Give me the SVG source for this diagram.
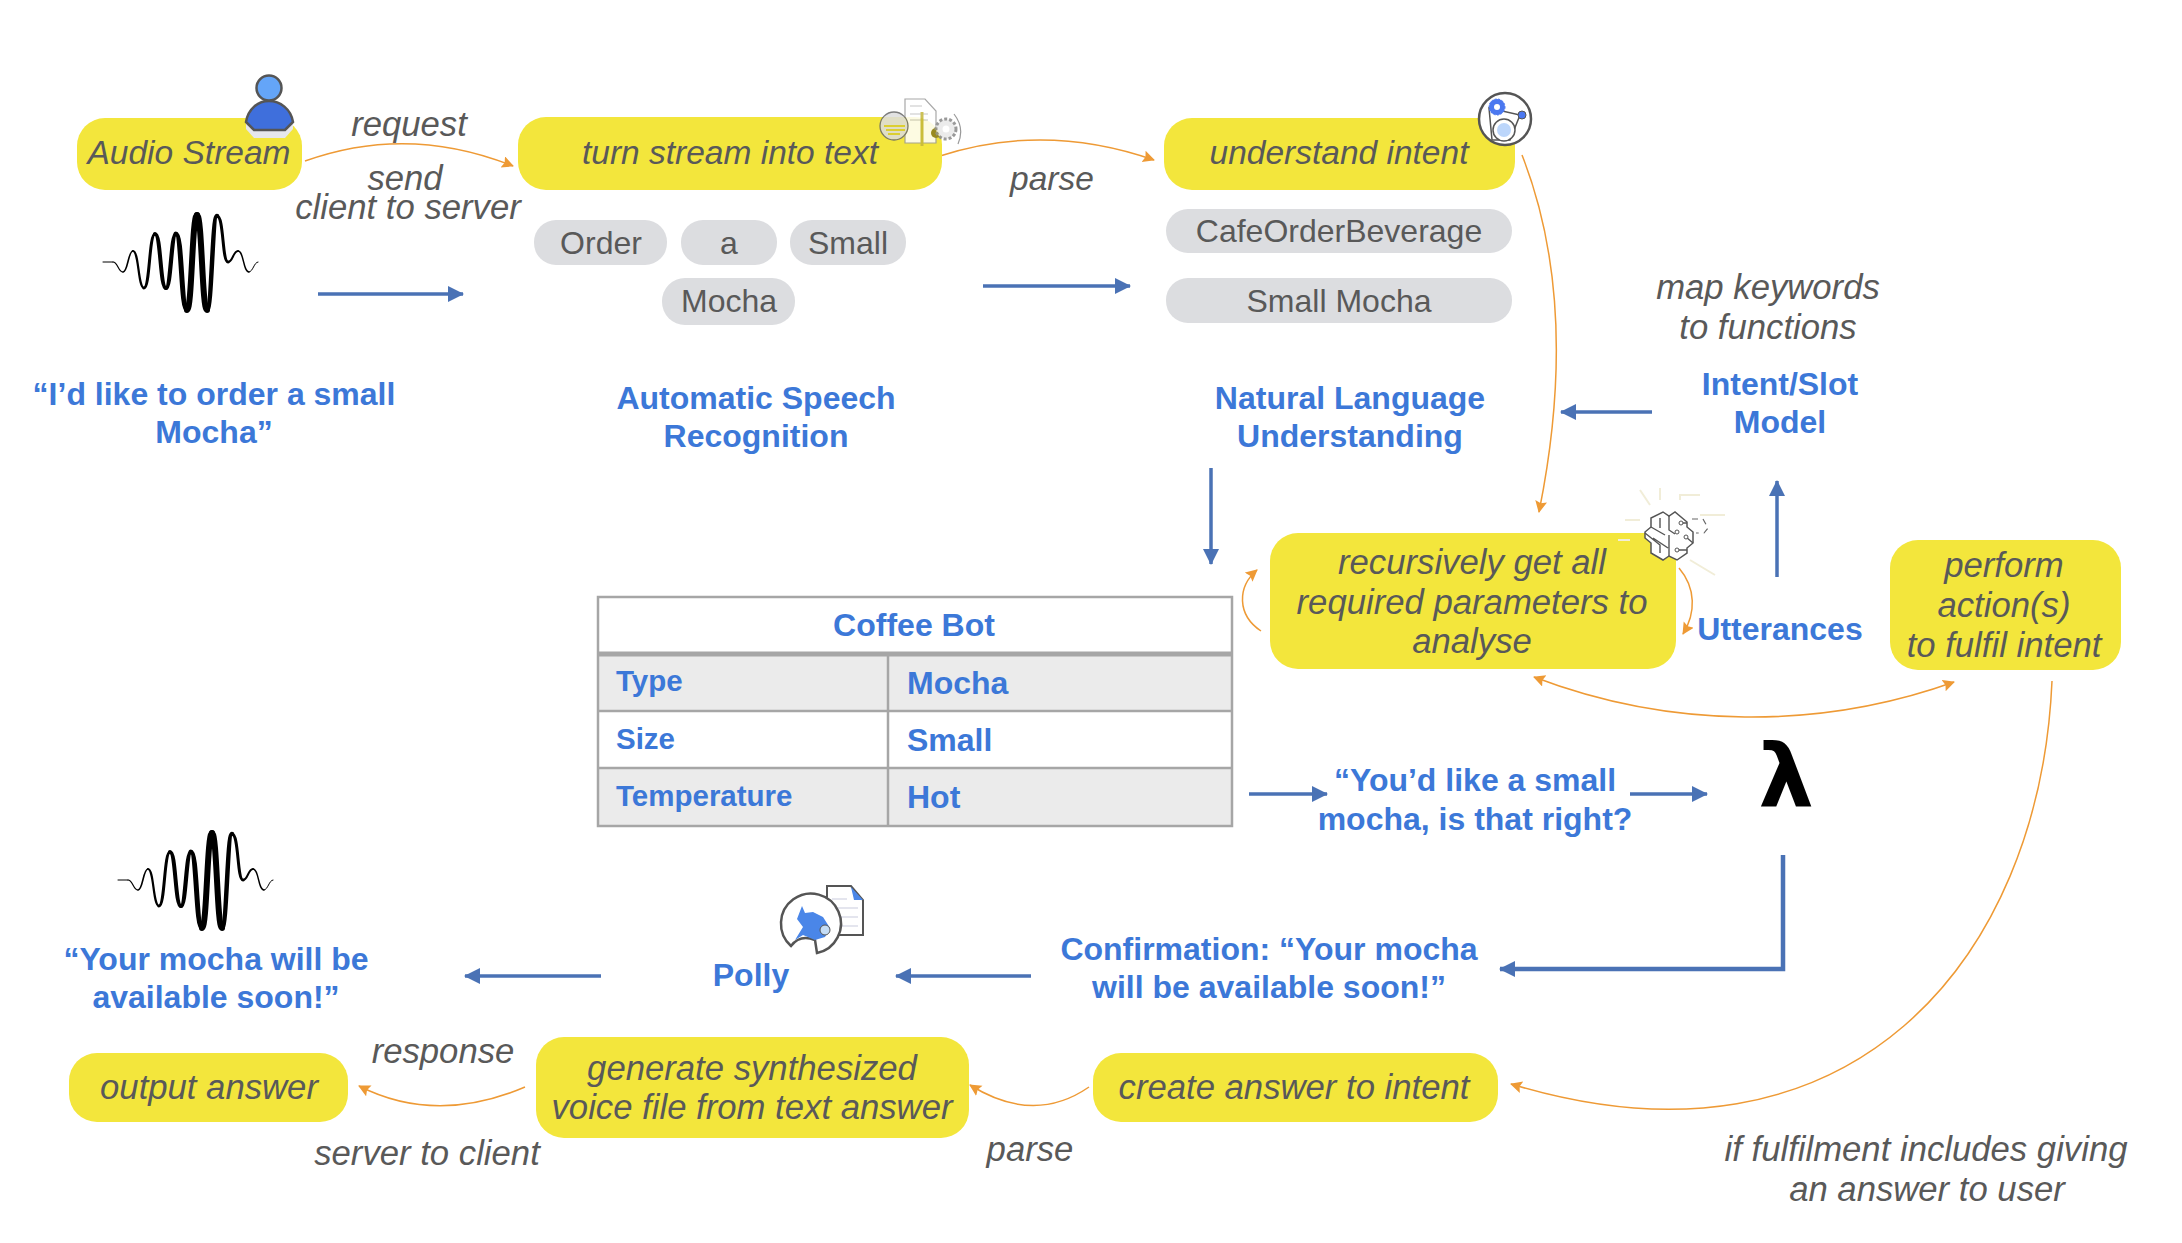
<svg xmlns="http://www.w3.org/2000/svg" width="2182" height="1243" viewBox="0 0 2182 1243">
<style>
text{font-family:"Liberation Sans",Arial,sans-serif;text-anchor:middle}
.y{fill:#f3e63c}
.g{fill:#dcdde0}
.i{font-style:italic;font-size:34.7px;fill:#595959}
.s{font-size:33.5px}
.p{font-size:32px;fill:#595959}
.b{font-weight:bold;font-size:32px;fill:#3c78d8}
.l{text-anchor:start}
.o{fill:none;stroke:#ee9a35;stroke-width:1.5}
.ba{fill:none;stroke:#4a72b5;stroke-width:3.5}
.cell{fill:none;stroke:#a6a6a6;stroke-width:2.5}
.ic{stroke:#555;stroke-width:2.5}
.w{fill:none;stroke:#000;stroke-linecap:round}
</style>
<defs>
<marker id="oa" markerUnits="userSpaceOnUse" markerWidth="14" markerHeight="14" refX="11" refY="6" orient="auto-start-reverse"><path d="M0 0L12 6L0 12L2 6Z" fill="#ee9a35"/></marker>
<marker id="ba" markerUnits="userSpaceOnUse" markerWidth="18" markerHeight="20" refX="15" refY="8" orient="auto"><path d="M0 0L16 8L0 16Z" fill="#4a72b5"/></marker>
<g id="wave">
<path class="w" stroke-width="1" stroke="#777" d="M13 62L23 62"/>
<path class="w" stroke-width="1.2" d="M23 62C28 62 28 72 33 72"/>
<path class="w" stroke-width="1.6" d="M33 72C38 72 38 51 43 51"/>
<path class="w" stroke-width="2.2" d="M43 51C49 51 48 88 54 88"/>
<path class="w" stroke-width="3" d="M54 88C60 88 59 34 65 34"/>
<path class="w" stroke-width="4" d="M65 34C71 34 70 88 76 88"/>
<path class="w" stroke-width="4.2" d="M76 88C81 88 81 34 86 34"/>
<path class="w" stroke-width="5" d="M86 34C92 34 91 110 97 110"/>
<path class="w" stroke-width="6" d="M97 110C102 110 102 15 107 15"/>
<path class="w" stroke-width="6" d="M107 15C112 15 112 110 117 110"/>
<path class="w" stroke-width="4.5" d="M117 110C122 110 122 16 127 16"/>
<path class="w" stroke-width="3" d="M127 16C134 16 132 62 138 62"/>
<path class="w" stroke-width="2" d="M138 62C143 62 143 51 148 51"/>
<path class="w" stroke-width="1.4" d="M148 51C154 51 153 72 159 72"/>
<path class="w" stroke-width="1" stroke="#777" d="M159 72C163 72 164 62 168 62"/>
</g>
</defs>
<rect width="2182" height="1243" fill="#fff"/>

<g id="connectors">
<path class="o" marker-end="url(#oa)" d="M305 161Q408 124 513 166"/>
<path class="o" marker-end="url(#oa)" d="M940 156Q1045 122 1154 160"/>
<path class="o" marker-end="url(#oa)" d="M1522 155C1567 270 1562 398 1539 512"/>
<path class="o" marker-end="url(#oa)" d="M1261 631C1237 615 1237 587 1257 570"/>
<path class="o" marker-end="url(#oa)" d="M1679 568C1696 588 1696 613 1683 634"/>
<path class="o" marker-start="url(#oa)" marker-end="url(#oa)" d="M1534 677C1670 729 1820 730 1954 682"/>
<path class="o" marker-end="url(#oa)" d="M2052 681C2040 960 1850 1187 1511 1084"/>
<path class="o" marker-end="url(#oa)" d="M1089 1087Q1034 1125 970 1085"/>
<path class="o" marker-end="url(#oa)" d="M525 1087Q436 1125 359 1086"/>
<path class="ba" marker-end="url(#ba)" d="M318 294H463"/>
<path class="ba" marker-end="url(#ba)" d="M983 286H1130"/>
<path class="ba" marker-end="url(#ba)" d="M1652 412H1561"/>
<path class="ba" marker-end="url(#ba)" d="M1211 468V564"/>
<path class="ba" marker-end="url(#ba)" d="M1777 577V481"/>
<path class="ba" marker-end="url(#ba)" d="M1249 794H1327"/>
<path class="ba" marker-end="url(#ba)" d="M1630 794H1707"/>
<path class="ba" style="stroke-width:4.5" marker-end="url(#ba)" d="M1783 855V969H1500"/>
<path class="ba" marker-end="url(#ba)" d="M1031 976H896"/>
<path class="ba" marker-end="url(#ba)" d="M601 976H465"/>
</g>

<g id="audio-stream"><rect class="y" x="77" y="118" width="225" height="72" rx="28"/><text class="i s" x="189" y="164">Audio Stream</text></g>
<g id="person-icon"><path d="M246 120Q248 105 269 102Q290 105 293 120L293 129L285 138H254L246 129Z" fill="#e6e7ec"/><path class="ic" fill="#3f6fdc" d="M246 122C248 109 258 101 269 101C280 101 291 109 293 122L285 130H254Z"/><circle class="ic" cx="269" cy="88" r="12.5" fill="#64a5f8"/></g>
<g id="turn-stream"><rect class="y" x="518" y="117" width="424" height="73" rx="28"/><text class="i s" x="730" y="164">turn stream into text</text></g>
<g id="doc-icon" opacity=".85">
<path d="M905 99H925L936 111V143H905Z" fill="#fff" stroke="#999" stroke-width="1.2"/>
<path d="M910 106H922M910 114H928M910 120H928" stroke="#bbb" stroke-width="1"/>
<circle cx="894" cy="126" r="14" fill="#ddd" stroke="#666" stroke-width="1.3"/>
<path d="M884 126H905M886 130H905M888 134H900" stroke="#d8cb30" stroke-width="2"/>
<path d="M922 112V146" stroke="#c4b73a" stroke-width="3"/>
<circle cx="936" cy="133" r="5" fill="#8a7a1c"/>
<circle cx="946" cy="129" r="10" fill="#e8e8e8" stroke="#888" stroke-dasharray="3 2" stroke-width="3"/><circle cx="946" cy="129" r="3.5" fill="#fff"/>
<path d="M954 114Q965 128 958 144" fill="none" stroke="#888" stroke-width="1.2"/>
</g>
<g id="understand-intent"><rect class="y" x="1164" y="118" width="351" height="72" rx="28"/><text class="i s" x="1339" y="164">understand intent</text></g>
<g id="gear-icon"><circle cx="1505" cy="119" r="26" fill="#fff" stroke="#555" stroke-width="2.5"/>
<path d="M1489 108L1520 115L1510 140H1492Z" fill="none" stroke="#555" stroke-width="1.5"/>
<circle cx="1497" cy="107" r="8" fill="#4b78f0" stroke="#4b78f0" stroke-dasharray="2 1.5"/><circle cx="1497" cy="107" r="3" fill="#fff"/>
<circle cx="1522" cy="115" r="4" fill="#4b78f0" stroke="#555"/>
<circle cx="1504" cy="130" r="11" fill="#fff" stroke="#555" stroke-width="1.5"/><circle cx="1504" cy="130" r="7" fill="#bcd6fb"/></g>

<g id="pill-order"><rect class="g" x="534" y="220" width="133" height="45" rx="22"/><text class="p" x="601" y="254">Order</text></g>
<g id="pill-a"><rect class="g" x="681" y="220" width="96" height="45" rx="22"/><text class="p" x="729" y="254">a</text></g>
<g id="pill-small"><rect class="g" x="790" y="220" width="116" height="45" rx="22"/><text class="p" x="848" y="254">Small</text></g>
<g id="pill-mocha"><rect class="g" x="662" y="278" width="133" height="47" rx="23"/><text class="p" x="729" y="312">Mocha</text></g>
<g id="pill-cafe"><rect class="g" x="1166" y="209" width="346" height="44" rx="22"/><text class="p" x="1339" y="242">CafeOrderBeverage</text></g>
<g id="pill-small-mocha"><rect class="g" x="1166" y="278" width="346" height="45" rx="22"/><text class="p" x="1339" y="312">Small Mocha</text></g>

<g id="wave-top"><use href="#wave" x="90" y="200"/></g>
<text class="i" x="409" y="136">request</text>
<text class="i"><tspan x="405" y="190">send</tspan><tspan x="408" y="219">client to server</tspan></text>
<text class="i s" x="1052" y="190">parse</text>
<text class="i" x="1768" y="299">map keywords</text>
<text class="i" x="1768" y="339">to functions</text>

<text class="b" x="214" y="405">“I’d like to order a small</text>
<text class="b" x="214" y="443">Mocha”</text>
<text class="b" x="756" y="409">Automatic Speech</text>
<text class="b" x="756" y="447">Recognition</text>
<text class="b" x="1350" y="409">Natural Language</text>
<text class="b" x="1350" y="447">Understanding</text>
<text class="b" x="1780" y="395">Intent/Slot</text>
<text class="b" x="1780" y="433">Model</text>
<text class="b" x="1780" y="640">Utterances</text>

<g id="recursive"><rect class="y" x="1270" y="533" width="406" height="136" rx="28"/>
<text class="i" x="1472" y="574">recursively get all</text><text class="i" x="1472" y="614">required parameters to</text><text class="i" x="1472" y="653">analyse</text></g>
<g id="brain-icon">
<path d="M1640 520H1625M1650 505L1640 490M1700 515H1725M1690 560L1715 575M1630 540H1618M1680 500V495H1700M1660 500V488" fill="none" stroke="#f1edd8" stroke-width="2"/>
<path d="M1663 512L1669 516L1675 512L1687 522V527L1693 532V543L1687 548V553L1677 560L1669 556L1663 560L1651 553V543L1645 538V532L1651 527V518Z" fill="#fff" stroke="#555" stroke-width="1.5"/>
<path d="M1669 516V530L1675 534M1681 523H1687M1686 537L1693 543M1677 550H1687M1669 535V556M1651 527L1665 535M1645 533L1660 545V553M1653 538L1668 548M1660 518V528" fill="none" stroke="#555" stroke-width="1.4"/>
<circle cx="1681" cy="523" r="2" fill="#fff" stroke="#555"/><circle cx="1677" cy="532" r="2" fill="#fff" stroke="#555"/><circle cx="1686" cy="537" r="2" fill="#fff" stroke="#555"/><circle cx="1677" cy="550" r="2" fill="#fff" stroke="#555"/>
<path d="M1692 519H1703L1708 528L1704 533H1696" fill="none" stroke="#666" stroke-width="1.2" stroke-dasharray="6 5"/>
</g>
<g id="perform"><rect class="y" x="1890" y="540" width="231" height="130" rx="28"/>
<text class="i" x="2004" y="577">perform</text><text class="i" x="2004" y="617">action(s)</text><text class="i" x="2004" y="657">to fulfil intent</text></g>

<g id="coffee-table">
<rect x="598" y="654" width="634" height="57" fill="#ebebeb"/>
<rect x="598" y="768" width="634" height="58" fill="#ebebeb"/>
<rect class="cell" x="598" y="597" width="634" height="229"/>
<path d="M598 654H1232" stroke="#a6a6a6" stroke-width="5"/>
<path class="cell" d="M598 711H1232M598 768H1232M888 654V826"/>
<text class="b" x="914" y="636">Coffee Bot</text>
<text class="b l" style="font-size:29.5px" x="616" y="691">Type</text>
<text class="b l" x="907" y="694">Mocha</text>
<text class="b l" style="font-size:29.5px" x="616" y="749">Size</text>
<text class="b l" x="907" y="751">Small</text>
<text class="b l" style="font-size:29.5px" x="616" y="806">Temperature</text>
<text class="b l" x="907" y="808">Hot</text>
</g>

<text class="b" x="1475" y="791">“You’d like a small</text>
<text class="b" x="1475" y="830">mocha, is that right?</text>
<text x="1786" y="806" style="font-family:'DejaVu Sans',sans-serif;font-weight:bold;font-size:88px;fill:#000">λ</text>
<text class="b" x="1269" y="960">Confirmation: “Your mocha</text>
<text class="b" x="1269" y="998">will be available soon!”</text>
<text class="b" x="751" y="986">Polly</text>
<g id="polly-icon">
<path d="M827 886H851L863 900V935H827Z" fill="#fff" stroke="#555" stroke-width="2"/>
<path d="M851 887L863 900H854Z" fill="#4a86e8"/>
<path d="M832 899H847M835 908H858M835 917H858M835 926H858" stroke="#e4e5ee" stroke-width="2"/>
<path d="M791 946A30 30 0 1 1 817 953L815 940Q800 934 791 946Z" fill="#fff" stroke="#555" stroke-width="2.5"/>
<path d="M797 919L802 906L805 913L813 912L823 917L830 928L825 937L815 940L803 935L795 940L803 927Z" fill="#4a86e8"/>
<circle cx="825" cy="930" r="5" fill="#c4dcf5" stroke="#555"/>
</g>

<text class="b" x="216" y="970">“Your mocha will be</text>
<text class="b" x="216" y="1008">available soon!”</text>
<g id="wave-bottom"><use href="#wave" x="105" y="818"/></g>

<g id="output-answer"><rect class="y" x="69" y="1053" width="279" height="69" rx="28"/><text class="i" x="209" y="1099">output answer</text></g>
<g id="generate"><rect class="y" x="536" y="1037" width="433" height="101" rx="28"/>
<text class="i" x="752" y="1080">generate synthesized</text><text class="i" x="752" y="1119">voice file from text answer</text></g>
<g id="create-answer"><rect class="y" x="1093" y="1053" width="405" height="69" rx="28"/><text class="i" x="1294" y="1099">create answer to intent</text></g>
<text class="i" x="443" y="1063">response</text>
<text class="i" x="427" y="1165">server to client</text>
<text class="i" x="1030" y="1161">parse</text>
<text class="i" x="1926" y="1161">if fulfilment includes giving</text>
<text class="i" x="1927" y="1201">an answer to user</text>
</svg>
